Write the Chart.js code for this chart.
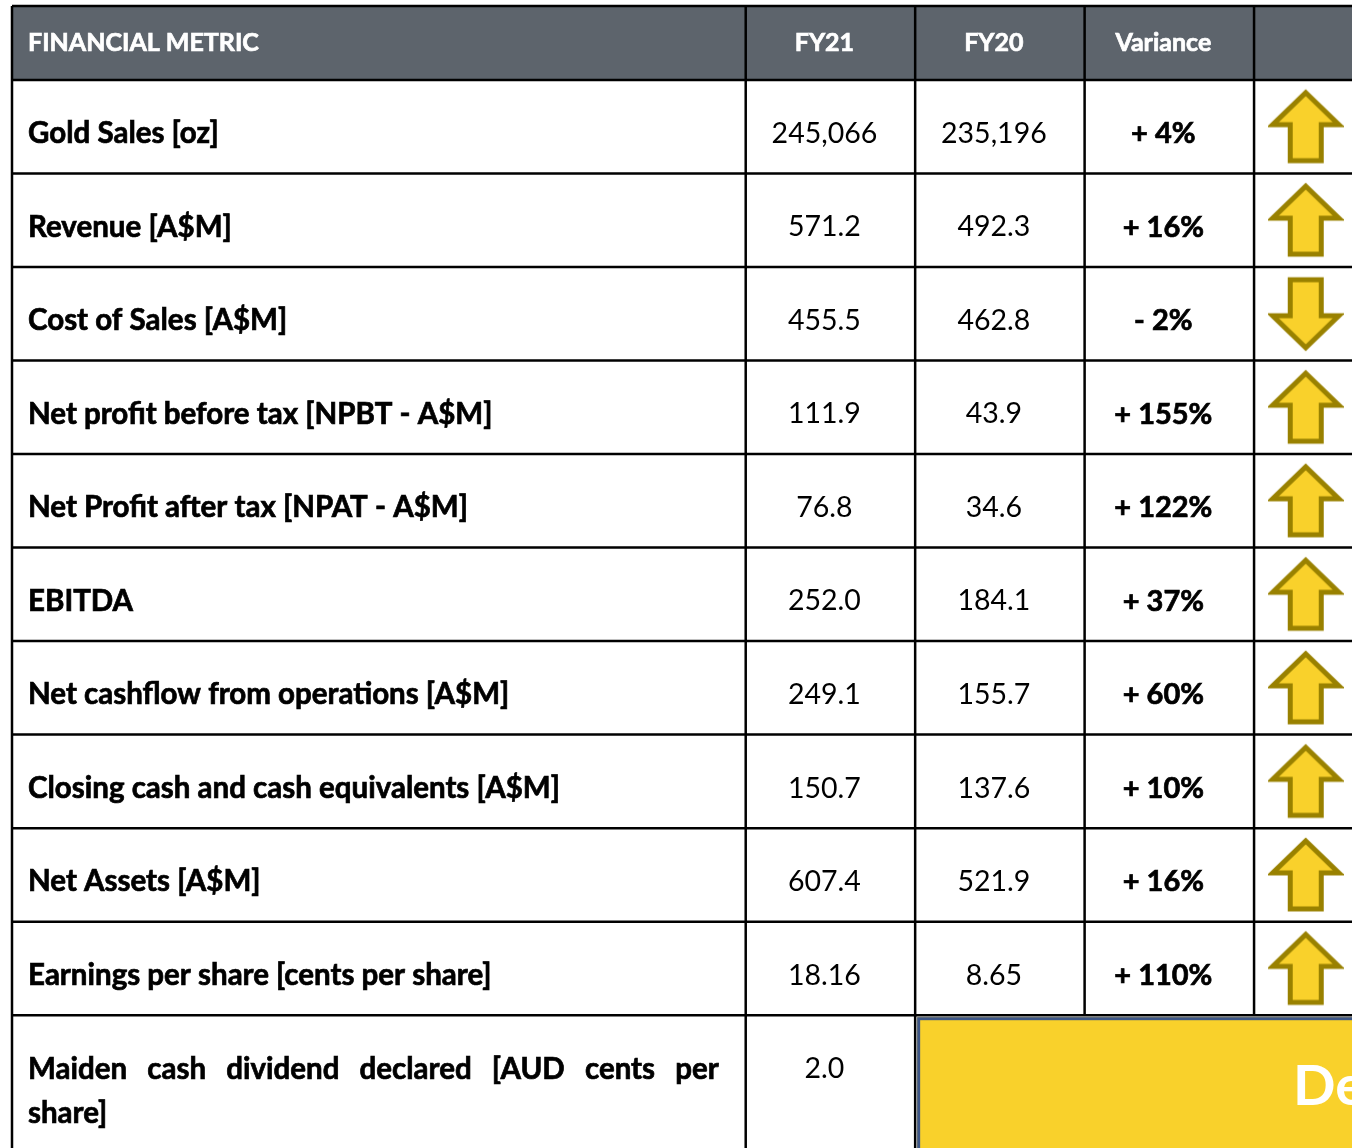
<!DOCTYPE html>
<html>
<head>
<meta charset="utf-8">
<script src="https://cdn.jsdelivr.net/npm/chart.js"></script>
<style>
  html, body { margin: 0; padding: 0; background: #ffffff; overflow: hidden; }
  canvas { display: block; }
</style>
</head>
<body>
<canvas id="tbl" width="1352" height="1148"></canvas>
<script>
// --- podatki tabele ---
const headers = ['FINANCIAL METRIC', 'FY21', 'FY20', 'Variance', ''];
const metrics = [
    'Gold Sales [oz]',
    'Revenue [A$M]',
    'Cost of Sales [A$M]',
    'Net profit before tax [NPBT - A$M]',
    'Net Profit after tax [NPAT - A$M]',
    'EBITDA',
    'Net cashflow from operations [A$M]',
    'Closing cash and cash equivalents [A$M]',
    'Net Assets [A$M]',
    'Earnings per share [cents per share]'
];
const fy21 = ['245,066', '571.2', '455.5', '111.9', '76.8', '252.0', '249.1', '150.7', '607.4', '18.16'];
const fy20 = ['235,196', '492.3', '462.8', '43.9', '34.6', '184.1', '155.7', '137.6', '521.9', '8.65'];
const variance = [4, 16, -2, 155, 122, 37, 60, 10, 16, 110];
const dividendLabel = 'Maiden cash dividend declared [AUD cents per share]';
const dividendFY21 = '2.0';
const dividendNote = 'Declared';

// --- postavitev (enote skal) ---
const colEdges = [0, 4.33, 5.33, 6.33, 7.33, 8.33];
const HEADER_TOP = -0.79;
const LAST_BOTTOM = 11.42;

const FONT = 'Lato, "Open Sans", sans-serif';
const YELLOW = '#f9d12b';
const OLIVE = '#998100';

function makeArrow(up) {
    const c = document.createElement('canvas');
    c.width = 76; c.height = 78;
    const g = c.getContext('2d');
    g.save();
    if (!up) { g.translate(0, 78); g.scale(1, -1); }
    g.beginPath();
    g.moveTo(38, 5);
    g.lineTo(71, 37);
    g.lineTo(53.5, 37);
    g.lineTo(53.5, 73);
    g.lineTo(22.5, 73);
    g.lineTo(22.5, 37);
    g.lineTo(5, 37);
    g.closePath();
    g.fillStyle = YELLOW;
    g.fill();
    g.lineWidth = 5;
    g.lineJoin = 'miter';
    g.strokeStyle = OLIVE;
    g.stroke();
    g.restore();
    return c;
}

const arrowCol = 7.635;
const upPoints = [], downPoints = [];
variance.forEach((v, i) => {
    const p = { x: arrowCol, y: i + 0.5 };
    (v >= 0 ? upPoints : downPoints).push(p);
});

// krepko besedilo z rahlo obrobo, da je bolj podobno Calibri Bold
function boldText(ctx, txt, x, y) {
    ctx.fillText(txt, x, y);
    ctx.lineWidth = 0.7;
    ctx.strokeStyle = ctx.fillStyle;
    ctx.strokeText(txt, x, y);
}

const tablePlugin = {
    id: 'tablePlugin',
    beforeDatasetsDraw(chart) {
        const ctx = chart.ctx;
        const xs = chart.scales.x, ys = chart.scales.y;
        const X = v => xs.getPixelForValue(v);
        const Y = v => ys.getPixelForValue(v);
        const left = X(0), right = chart.width + 10;
        ctx.save();

        // glava
        ctx.fillStyle = '#5d646c';
        ctx.fillRect(left, Y(HEADER_TOP), right - left, Y(0) - Y(HEADER_TOP));

        // rumeno polje
        const boxX = X(colEdges[2]) + 2, boxY = Y(metrics.length) + 2;
        ctx.fillStyle = YELLOW;
        ctx.fillRect(boxX, boxY, right - boxX, chart.height - boxY + 10);
        ctx.strokeStyle = '#3d5687';
        ctx.lineWidth = 3;
        ctx.strokeRect(boxX + 1.5, boxY + 1.5, right - boxX, chart.height);

        // črte
        ctx.strokeStyle = '#000';
        ctx.lineWidth = 2.5;
        ctx.beginPath();
        for (let r = 0; r <= metrics.length; r++) {
            ctx.moveTo(left, Y(r)); ctx.lineTo(right, Y(r));
        }
        ctx.moveTo(left, Y(HEADER_TOP)); ctx.lineTo(right, Y(HEADER_TOP));
        ctx.moveTo(left, Y(HEADER_TOP)); ctx.lineTo(left, chart.height);
        [1, 2].forEach(c => { ctx.moveTo(X(colEdges[c]), Y(HEADER_TOP)); ctx.lineTo(X(colEdges[c]), chart.height); });
        [3, 4].forEach(c => { ctx.moveTo(X(colEdges[c]), Y(HEADER_TOP)); ctx.lineTo(X(colEdges[c]), Y(metrics.length)); });
        ctx.stroke();

        const cx = c => (X(colEdges[c]) + X(colEdges[c + 1])) / 2 - 6;
        ctx.textBaseline = 'middle';

        // besedilo glave
        ctx.fillStyle = '#fff';
        ctx.font = 'bold 25px ' + FONT;
        ctx.textAlign = 'left';
        boldText(ctx, headers[0], left + 16, Y(HEADER_TOP / 2));
        ctx.textAlign = 'center';
        for (let c = 1; c < headers.length; c++) {
            if (headers[c]) boldText(ctx, headers[c], cx(c), Y(HEADER_TOP / 2));
        }

        // vrstice
        ctx.fillStyle = '#000';
        metrics.forEach((m, i) => {
            const yy = Y(i + 0.5) + 7;
            ctx.font = 'bold 29.5px ' + FONT;
            ctx.textAlign = 'left';
            boldText(ctx, m, left + 16, yy);
            ctx.textAlign = 'center';
            ctx.font = '28.5px ' + FONT;
            ctx.fillText(fy21[i], cx(1), yy);
            ctx.fillText(fy20[i], cx(2), yy);
            ctx.font = 'bold 29px ' + FONT;
            const v = variance[i];
            boldText(ctx, (v >= 0 ? '+ ' : '- ') + Math.abs(v) + '%', cx(3), yy);
        });

        // zadnja vrstica - poravnano besedilo
        const words = dividendLabel.split(' ');
        const line1 = words.slice(0, 7), line2 = words.slice(7);
        const y1 = Y(metrics.length) + 54, y2 = y1 + 44;
        ctx.font = 'bold 29.5px ' + FONT;
        ctx.textAlign = 'left';
        const x0 = left + 16, x1 = X(colEdges[1]) - 27;
        const wsum = line1.reduce((s, w) => s + ctx.measureText(w).width, 0);
        const gap = (x1 - x0 - wsum) / (line1.length - 1);
        let px = x0;
        line1.forEach(w => { boldText(ctx, w, px, y1); px += ctx.measureText(w).width + gap; });
        boldText(ctx, line2.join(' '), x0, y2);
        ctx.font = '28.5px ' + FONT;
        ctx.textAlign = 'center';
        ctx.fillText(dividendFY21, cx(1), y1);

        ctx.fillStyle = '#fff';
        ctx.font = 'bold 56px ' + FONT;
        ctx.textAlign = 'left';
        ctx.fillText(dividendNote, 1293, y1 + 18);
        ctx.restore();
    }
};

new Chart(document.getElementById('tbl'), {
    type: 'scatter',
    data: {
        datasets: [
            { data: upPoints, pointStyle: makeArrow(true), pointRadius: 38, pointHoverRadius: 38 },
            { data: downPoints, pointStyle: makeArrow(false), pointRadius: 38, pointHoverRadius: 38 }
        ]
    },
    options: {
        responsive: false,
        animation: false,
        events: [],
        layout: { autoPadding: false, padding: { left: 12, top: 6, right: 0, bottom: 0 } },
        plugins: { legend: { display: false }, tooltip: { enabled: false } },
        scales: {
            x: { type: 'linear', display: false, min: 0, max: 7.908 },
            y: { type: 'linear', display: false, min: HEADER_TOP, max: LAST_BOTTOM, reverse: true }
        }
    },
    plugins: [tablePlugin]
});
</script>
</body>
</html>
